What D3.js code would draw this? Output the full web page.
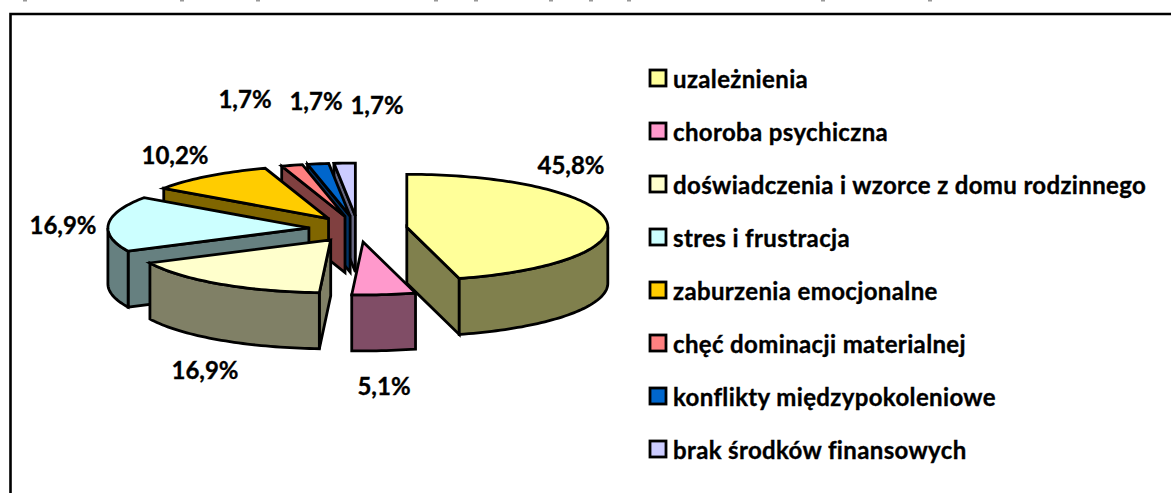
<!DOCTYPE html>
<html lang="en">

<head>
    <meta charset="UTF-8">
    <title>Przyczyny przemocy</title>
    <script src="https://d3js.org/d3.v7.min.js"></script>
</head>
<style>
    html, body {
        margin: 0;
        background: #fff;
    }

    text {
        font-family: Lato, "Open Sans", sans-serif;
        font-weight: bold;
        fill: #000;
        stroke: #000;
        stroke-width: 0.35px;
    }
</style>

<body>
    <div id="chart"></div>
    <script>
        const categories = [
            'uzależnienia',
            'choroba psychiczna',
            'doświadczenia i wzorce z domu rodzinnego',
            'stres i frustracja',
            'zaburzenia emocjonalne',
            'chęć dominacji materialnej',
            'konflikty międzypokoleniowe',
            'brak środków finansowych'
        ];
        const values = [45.8, 5.1, 16.9, 16.9, 10.2, 1.7, 1.7, 1.7];
        const valueLabels = ['45,8%', '5,1%', '16,9%', '16,9%', '10,2%', '1,7%', '1,7%', '1,7%'];
        const colors = ['#ffff99', '#ff99cc', '#ffffcc', '#ccffff', '#ffcc00', '#ff8080', '#0066cc', '#ccccff'];

        const width = 1171, height = 493;

        // pie geometry
        const cx = 358, cy = 229, rx = 201, ry = 53, depth = 56, explode = 0.245;
        // label centres, same order as values
        const labelX = [571, 384, 205, 63, 175, 245, 316, 377];
        const labelY = [164, 385, 369, 224, 154, 98, 100, 104];
        // tips of the cropped line of text above the frame
        const cropMarks = [25, 182, 258, 436, 476, 551, 591, 629, 823, 930];

        const svg = d3.select('#chart')
            .append('svg')
            .attr('width', width)
            .attr('height', height)
            .style('display', 'block');

        svg.selectAll('.crop')
            .data(cropMarks)
            .enter()
            .append('rect')
            .attr('class', 'crop')
            .attr('x', d => d - 2)
            .attr('y', 0)
            .attr('width', 4)
            .attr('height', 1.5)
            .attr('fill', '#999');

        // frame
        svg.append('path')
            .attr('d', `M10.5,${height + 5}V14H${width + 5}`)
            .attr('fill', 'none')
            .attr('stroke', '#000')
            .attr('stroke-width', 2.6);

        const arcs = d3.pie().sort(null).value(d => d)(values);

        const px = a => rx * Math.sin(a);
        const py = a => -ry * Math.cos(a);

        function rimPoints(a0, a1) {
            const n = Math.max(2, Math.ceil((a1 - a0) * 40));
            return d3.range(n + 1).map(i => {
                const a = a0 + (a1 - a0) * i / n;
                return [px(a), py(a)];
            });
        }

        const line = d3.line();
        const closed = pts => line(pts) + 'Z';
        const darken = c => {
            const r = d3.rgb(c);
            return d3.rgb(r.r * 0.5, r.g * 0.5, r.b * 0.5).formatHex();
        };

        function drawSlice(d) {
            const i = d.index;
            const a0 = d.startAngle, a1 = d.endAngle, mid = (a0 + a1) / 2;
            const g = svg.append('g')
                .attr('transform', `translate(${cx + explode * px(mid)},${cy + explode * py(mid)})`)
                .attr('stroke', '#000')
                .attr('stroke-width', 2.8)
                .attr('stroke-linejoin', 'miter');
            const wall = darken(colors[i]);

            // cut faces
            if (Math.sin(a0) < 0) {
                g.append('path').attr('fill', wall)
                    .attr('d', closed([[0, 0], [px(a0), py(a0)], [px(a0), py(a0) + depth], [0, depth]]));
            }
            if (Math.sin(a1) > 0) {
                g.append('path').attr('fill', wall)
                    .attr('d', closed([[0, 0], [px(a1), py(a1)], [px(a1), py(a1) + depth], [0, depth]]));
            }
            // outer wall, only the part on the near side
            const w0 = Math.max(a0, Math.PI / 2), w1 = Math.min(a1, Math.PI * 1.5);
            if (w1 > w0) {
                const rim = rimPoints(w0, w1);
                const low = rim.map(p => [p[0], p[1] + depth]).reverse();
                g.append('path').attr('fill', wall).attr('d', closed(rim.concat(low)));
            }
            // top
            g.append('path').attr('fill', colors[i])
                .attr('d', closed([[0, 0]].concat(rimPoints(a0, a1))));
        }

        // back to front
        [0, 7, 6, 5, 4, 3, 2, 1].forEach(i => drawSlice(arcs[i]));

        // data labels
        svg.selectAll('.val')
            .data(valueLabels)
            .enter()
            .append('text')
            .attr('class', 'val')
            .attr('x', (d, i) => labelX[i])
            .attr('y', (d, i) => labelY[i])
            .attr('text-anchor', 'middle')
            .attr('dominant-baseline', 'central')
            .attr('font-size', 24)
            .text(d => d);

        // legend
        const legendY = d3.scalePoint()
            .domain(categories)
            .range([78, 449]);

        const legend = svg.selectAll('.legend')
            .data(categories)
            .enter()
            .append('g')
            .attr('class', 'legend')
            .attr('transform', d => `translate(650,${legendY(d)})`);

        legend.append('rect')
            .attr('x', 0)
            .attr('y', -8)
            .attr('width', 16)
            .attr('height', 16)
            .attr('fill', (d, i) => colors[i])
            .attr('stroke', '#000')
            .attr('stroke-width', 2.8);

        legend.append('text')
            .attr('x', 23)
            .attr('y', 0)
            .attr('dominant-baseline', 'central')
            .attr('font-size', 24)
            .attr('letter-spacing', 0.36)
            .text(d => d);
    </script>
</body>

</html>
